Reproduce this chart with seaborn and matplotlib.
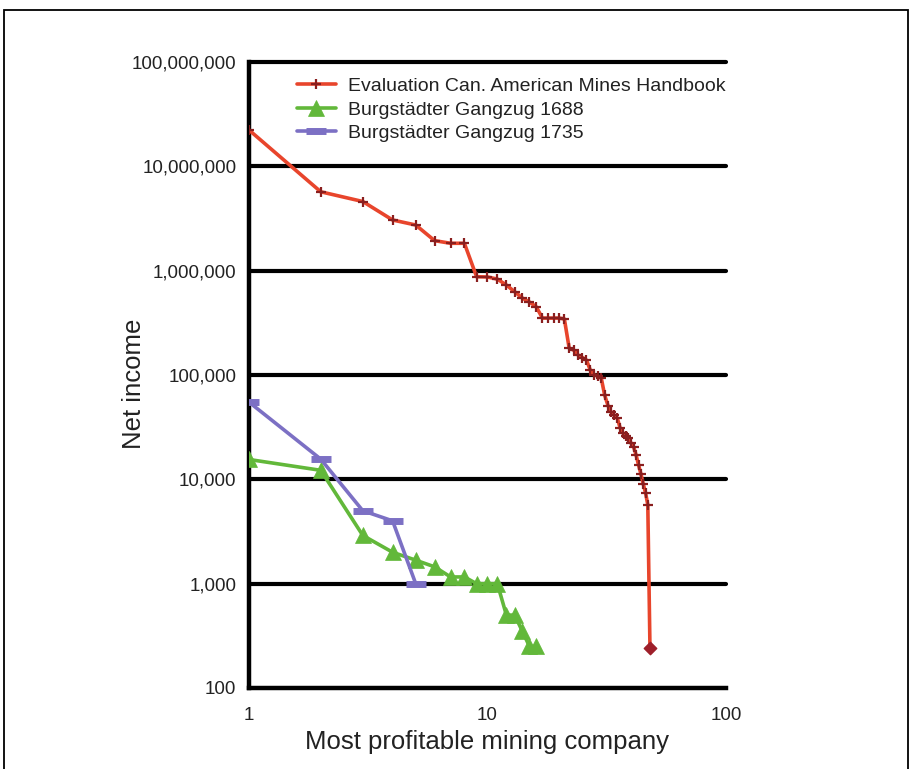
import matplotlib
matplotlib.use("Agg")
import matplotlib.pyplot as plt
import seaborn as sns
import numpy as np
import pandas as pd
from matplotlib.patches import Rectangle
from matplotlib.ticker import FixedLocator, FixedFormatter, NullLocator

# ---- data ----
red_label = "Evaluation Can. American Mines Handbook"
red_rank = list(range(1, 49))
red_income = [22300000, 5700000, 4600000, 3060000, 2740000, 1940000, 1830000, 1830000,
              875000, 870000, 830000, 728000, 628000, 546000, 500000, 451000,
              351000, 351000, 351000, 351000, 345000, 181000, 173000, 155000,
              147000, 139000, 111000, 100000, 98000, 93000, 64000, 51000,
              44000, 41000, 38600, 31000, 27700, 26000, 24800, 22200,
              20400, 17000, 13700, 11200, 9000, 7400, 5700, 240]

green_label = "Burgstädter Gangzug 1688"
green_rank = list(range(1, 17))
green_income = [15500, 12200, 2900, 2000, 1680, 1450, 1160, 1160,
                1000, 1000, 1000, 500, 500, 350, 250, 250]

purple_label = "Burgstädter Gangzug 1735"
purple_rank = [1, 2, 3, 4, 5]
purple_income = [55000, 15600, 5000, 4000, 1000]

y_ticks = [100, 1000, 10000, 100000, 1000000, 10000000, 100000000]
y_ticklabels = ["100", "1,000", "10,000", "100,000", "1,000,000", "10,000,000", "100,000,000"]
x_ticks = [1, 10, 100]
x_ticklabels = ["1", "10", "100"]

# ---- style ----
sns.set_style("white")
plt.rcParams['font.family'] = ['Liberation Sans', 'DejaVu Sans']

fig = plt.figure(figsize=(9.12, 7.69), dpi=100)
ax = fig.add_axes([249/912, 1-688/769, (726-249)/912, (688-62)/769])

RED = "#E8452C"
GREEN = "#62B83A"
PURPLE = "#7C70C4"
TXT = "#222222"

sns.lineplot(x=red_rank, y=red_income, ax=ax, color=RED, lw=2.6,
             marker="+", markersize=7, markeredgewidth=1.6,
             markeredgecolor="#8A1F1F", label=red_label, zorder=4)
ax.scatter([red_rank[-1]], [red_income[-1]], marker="D", s=40,
           color="#9E1F2A", zorder=5)
sns.lineplot(x=green_rank, y=green_income, ax=ax, color=GREEN, lw=2.6,
             marker="^", markersize=11, markeredgewidth=0.5,
             markeredgecolor=GREEN, label=green_label, zorder=3)
sns.lineplot(x=purple_rank, y=purple_income, ax=ax, color=PURPLE, lw=2.6,
             marker="_", markersize=15, markeredgewidth=5,
             markeredgecolor=PURPLE, label=purple_label, zorder=3)

ax.set_xscale("log")
ax.set_yscale("log")
ax.set_xlim(1, 100)
ax.set_ylim(100, 100000000)

ax.yaxis.set_major_locator(FixedLocator(y_ticks))
ax.yaxis.set_major_formatter(FixedFormatter(y_ticklabels))
ax.yaxis.set_minor_locator(NullLocator())
ax.xaxis.set_major_locator(FixedLocator(x_ticks))
ax.xaxis.set_major_formatter(FixedFormatter(x_ticklabels))
ax.xaxis.set_minor_locator(NullLocator())

for yv in y_ticks[1:]:
    ax.axhline(yv, color="black", lw=3, zorder=1, clip_on=False)

for side in ["top", "right"]:
    ax.spines[side].set_visible(False)
for side in ["left", "bottom"]:
    ax.spines[side].set_linewidth(3.2)
    ax.spines[side].set_color("black")

ax.tick_params(axis="y", direction="out", length=5, width=2.5, labelsize=13.5,
               pad=4, labelcolor=TXT)
ax.tick_params(axis="x", direction="inout", length=8, width=2, labelsize=13.5,
               pad=10, labelcolor=TXT)

ax.set_xlabel("Most profitable mining company", fontsize=18.5, color=TXT, labelpad=4)
ax.set_ylabel("Net income", fontsize=18.5, color=TXT)
ax.yaxis.set_label_coords((146-249)/477, (688-384)/626)

leg = ax.legend(loc="upper left", bbox_to_anchor=(0.072, 0.997), frameon=False,
                fontsize=14, handlelength=2.0, handletextpad=0.62,
                labelspacing=0.3, borderaxespad=0.3)
for t in leg.get_texts():
    t.set_color(TXT)

fig.patches.append(Rectangle((4/912, -0.02), (908-4)/912, 1-10/769+0.02,
                             transform=fig.transFigure, fill=False,
                             edgecolor="black", lw=1.3))

fig.savefig("out.png", dpi=100, facecolor="white")
